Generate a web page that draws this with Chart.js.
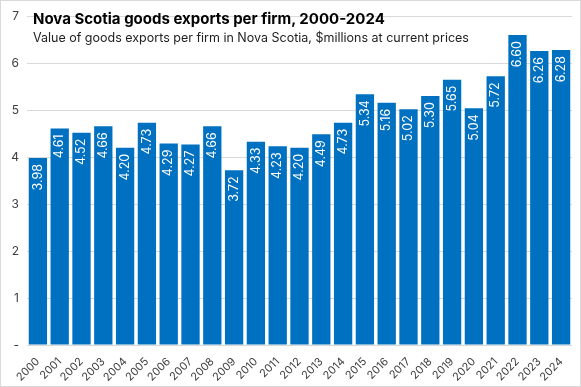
<!DOCTYPE html>
<html>
<head>
<meta charset="utf-8">
<script src="https://cdn.jsdelivr.net/npm/chart.js@4/dist/chart.umd.min.js"></script>
<style>
  html, body { margin: 0; padding: 0; background: #fff; }
  #wrap { position: relative; width: 581px; height: 387px; box-sizing: border-box; border: 1px solid #d9d9d9; }
  canvas { position: absolute; left: 0; top: 0; }
  .ttl { position: absolute; left: 32px; top: 8px; font: bold 15px Inter, sans-serif; color: #000; white-space: nowrap; }
  .sub { position: absolute; left: 32px; top: 29px; font: 12.5px Inter, sans-serif; color: #222; white-space: nowrap; }
</style>
</head>
<body>
<div id="wrap">
  <canvas id="c" width="579" height="385"></canvas>
  <div class="ttl">Nova Scotia goods exports per firm, 2000-2024</div>
  <div class="sub">Value of goods exports per firm in Nova Scotia, $millions at current prices</div>
</div>
<script>
'use strict';

// ── データ ────────────────────────────────
const years = ['2000','2001','2002','2003','2004','2005','2006','2007','2008','2009','2010','2011','2012',
  '2013','2014','2015','2016','2017','2018','2019','2020','2021','2022','2023','2024'];
const exportsPerFirm = [3.98, 4.61, 4.52, 4.66, 4.20, 4.73, 4.29, 4.27, 4.66, 3.72, 4.33, 4.23, 4.20,
  4.49, 4.73, 5.34, 5.16, 5.02, 5.30, 5.65, 5.04, 5.72, 6.60, 6.26, 6.28];
const yTicks = [0, 1, 2, 3, 4, 5, 6, 7];

// ── 棒の中の数値ラベル ─────────────────────
const barLabels = {
  id: 'barLabels',
  afterDatasetsDraw(chart) {
    const ctx = chart.ctx;
    const meta = chart.getDatasetMeta(0);
    ctx.save();
    ctx.fillStyle = '#fff';
    ctx.font = '12.5px Inter, sans-serif';
    ctx.textAlign = 'right';
    ctx.textBaseline = 'middle';
    meta.data.forEach((bar, i) => {
      ctx.save();
      ctx.translate(bar.x, bar.y + 6);
      ctx.rotate(-Math.PI / 2);
      ctx.fillText(exportsPerFirm[i].toFixed(2), 0, 0);
      ctx.restore();
    });
    ctx.restore();
  }
};

new Chart(document.getElementById('c').getContext('2d'), {
  type: 'bar',
  data: {
    labels: years,
    datasets: [{
      data: exportsPerFirm,
      backgroundColor: '#0070C0',
      categoryPercentage: 1,
      barPercentage: 0.84,
    }],
  },
  options: {
    responsive: false,
    animation: false,
    layout: { padding: { top: 4, right: 8, left: 4, bottom: 0 } },
    plugins: { legend: { display: false }, tooltip: { enabled: false } },
    scales: {
      x: {
        grid: { display: false },
        border: { display: false },
        ticks: { autoSkip: false, minRotation: 45, maxRotation: 45, color: '#404040', font: { family: 'Inter', size: 11 }, padding: 2 },
      },
      y: {
        min: 0, max: 7,
        afterBuildTicks: axis => { axis.ticks = yTicks.map(v => ({ value: v })); },
        afterFit: axis => { axis.width = 22; },
        grid: { color: '#d9d9d9', drawTicks: false },
        border: { display: false },
        ticks: {
          color: '#404040', font: { family: 'Inter', size: 12 }, padding: 8,
          callback: v => v === 0 ? '-' : v,
        },
      },
    },
  },
  plugins: [barLabels],
});
</script>
</body>
</html>
